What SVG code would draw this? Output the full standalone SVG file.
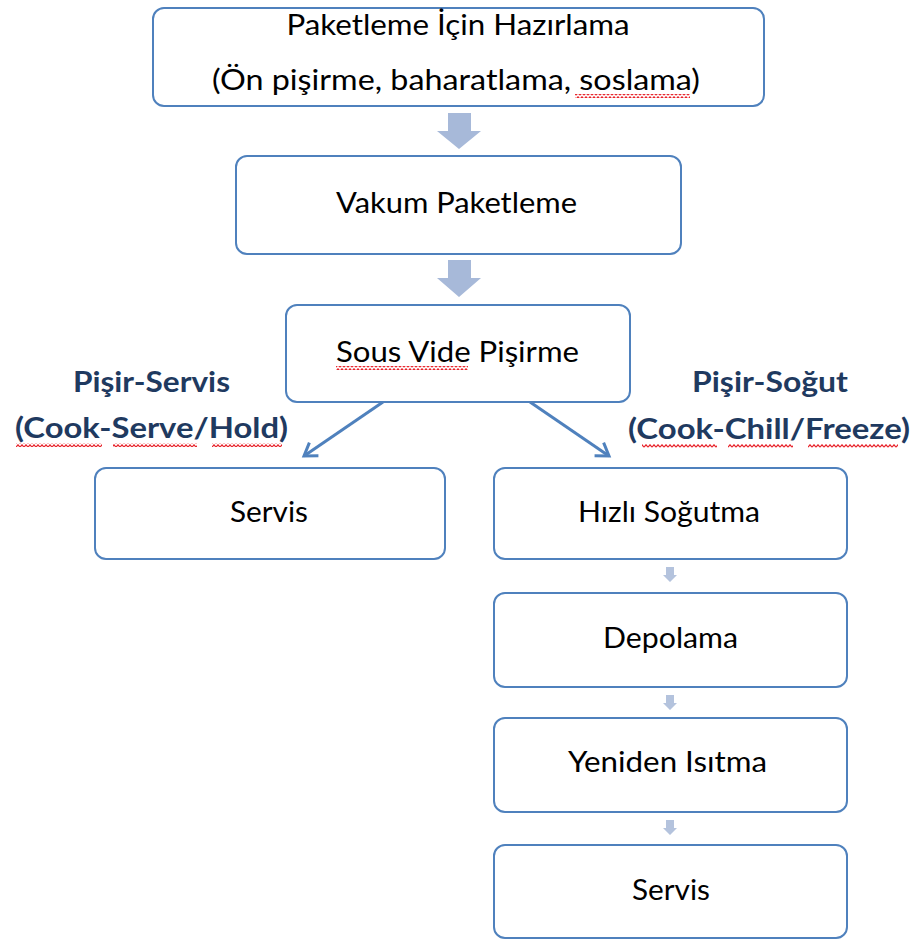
<svg xmlns="http://www.w3.org/2000/svg" width="917" height="940" viewBox="0 0 917 940">
<defs>
<style>
.box{fill:#ffffff;stroke:#4f81bd;stroke-width:2}
.t{font-family:Lato,"Liberation Sans",sans-serif;font-size:29px;fill:#000;text-anchor:middle}
.lbl{font-family:Lato,"Liberation Sans",sans-serif;font-size:28px;font-weight:bold;fill:#1f3a60;text-anchor:middle}
.blk{fill:#a7b9d9}
.sm{fill:#b4c3dd}
.con{stroke:#4f81bd;stroke-width:3;fill:none}
.sq{fill:url(#wave)}
</style>
<pattern id="wave" patternUnits="userSpaceOnUse" width="4" height="4">
<path d="M0,3.2 L2,0.8 L4,3.2" fill="none" stroke="#e8232a" stroke-width="1.2"/>
</pattern>
<marker id="ah" markerUnits="userSpaceOnUse" markerWidth="30" markerHeight="30" refX="15" refY="15" orient="auto">
<path d="M3,7 L15,15 L3,23" fill="none" stroke="#4f81bd" stroke-width="3" stroke-linejoin="miter"/>
</marker>
</defs>
<rect width="917" height="940" fill="#ffffff"/>

<g id="connectors">
<polygon class="blk" points="448,113 471,113 471,131 481,131 459,149 437,131 448,131"/>
<polygon class="blk" points="448,260 471,260 471,278 481,278 459,297 437,278 448,278"/>
<line class="con" x1="383" y1="402" x2="304" y2="456" marker-end="url(#ah)"/>
<line class="con" x1="530" y1="402" x2="609" y2="456" marker-end="url(#ah)"/>
<polygon class="sm" points="666,567 674,567 674,575 677,575 670,582 663,575 666,575"/>
<polygon class="sm" points="666,695 674,695 674,703 677,703 670,710 663,703 666,703"/>
<polygon class="sm" points="666,820 674,820 674,828 677,828 670,835 663,828 666,828"/>
</g>

<g id="node-hazirlama">
<rect class="box" x="153" y="8" width="611" height="98" rx="11"/>
<text class="t" x="458" y="35" textLength="343" lengthAdjust="spacingAndGlyphs">Paketleme İçin Hazırlama</text>
<text class="t" x="456" y="90" textLength="488" lengthAdjust="spacingAndGlyphs">(Ön pişirme, baharatlama, soslama)</text>
<rect class="sq" x="575" y="94" width="115" height="4"/>
</g>

<g id="node-vakum">
<rect class="box" x="236" y="156" width="445" height="98" rx="11"/>
<text class="t" x="456.5" y="213" textLength="241" lengthAdjust="spacingAndGlyphs">Vakum Paketleme</text>
</g>

<g id="node-sousvide">
<rect class="box" x="286" y="305" width="344" height="97" rx="11"/>
<text class="t" x="457.5" y="362" textLength="243" lengthAdjust="spacingAndGlyphs">Sous Vide Pişirme</text>
<rect class="sq" x="336" y="366" width="132" height="4"/>
</g>

<g id="label-pisir-servis">
<text class="lbl" x="151.5" y="392" textLength="157" lengthAdjust="spacingAndGlyphs">Pişir-Servis</text>
<text class="lbl" x="151.5" y="438" textLength="273" lengthAdjust="spacingAndGlyphs">(Cook-Serve/Hold)</text>
<rect class="sq" x="16" y="443" width="86" height="4"/>
<rect class="sq" x="113" y="443" width="84" height="4"/>
<rect class="sq" x="212" y="443" width="70" height="4"/>
</g>

<g id="label-pisir-sogut">
<text class="lbl" x="770" y="392" textLength="156" lengthAdjust="spacingAndGlyphs">Pişir-Soğut</text>
<text class="lbl" x="769" y="439" textLength="282" lengthAdjust="spacingAndGlyphs">(Cook-Chill/Freeze)</text>
<rect class="sq" x="642" y="444" width="75" height="4"/>
<rect class="sq" x="728" y="444" width="65" height="4"/>
<rect class="sq" x="808" y="444" width="90" height="4"/>
</g>

<g id="node-servis-left">
<rect class="box" x="95" y="468" width="350" height="91" rx="11"/>
<text class="t" x="269" y="522" textLength="78" lengthAdjust="spacingAndGlyphs">Servis</text>
</g>

<g id="node-hizli-sogutma">
<rect class="box" x="494" y="468" width="353" height="91" rx="11"/>
<text class="t" x="669" y="522" textLength="182" lengthAdjust="spacingAndGlyphs">Hızlı Soğutma</text>
</g>

<g id="node-depolama">
<rect class="box" x="494" y="593" width="353" height="94" rx="11"/>
<text class="t" x="670.5" y="648" textLength="135" lengthAdjust="spacingAndGlyphs">Depolama</text>
</g>

<g id="node-yeniden-isitma">
<rect class="box" x="494" y="718" width="353" height="94" rx="11"/>
<text class="t" x="667.5" y="772" textLength="199" lengthAdjust="spacingAndGlyphs">Yeniden Isıtma</text>
</g>

<g id="node-servis-bottom">
<rect class="box" x="494" y="845" width="353" height="93" rx="11"/>
<text class="t" x="671" y="900" textLength="78" lengthAdjust="spacingAndGlyphs">Servis</text>
</g>
</svg>
